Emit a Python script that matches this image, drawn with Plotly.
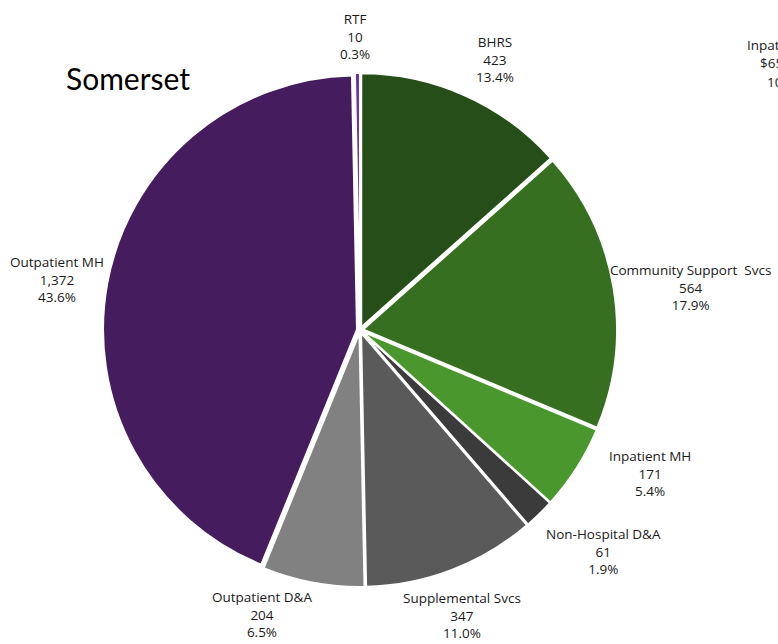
import plotly.graph_objects as go

# Somerset service categories, clockwise from 12 o'clock
categories = ["BHRS", "Community Support  Svcs", "Inpatient MH", "Non-Hospital D&A",
              "Supplemental Svcs", "Outpatient D&A", "Outpatient MH", "RTF"]
values = [423, 564, 171, 61, 347, 204, 1372, 10]
percent_labels = ["13.4%", "17.9%", "5.4%", "1.9%", "11.0%", "6.5%", "43.6%", "0.3%"]
colors = ["#264e18", "#366f20", "#4a982d", "#3b3b3b", "#5a5a5a", "#818181", "#451c5d", "#7030a0"]

# label anchor points (pixels from top-left) for each category's text block
label_xy = [(495, 60), (690, 287), (650, 473), (603, 551), (462, 615), (262, 614), (57, 280), (355, 36)]

W, H = 778, 644
cx, cy, r = 360, 330, 257

fig = go.Figure(go.Pie(
    labels=categories,
    values=values,
    sort=False,
    direction="clockwise",
    rotation=0,
    marker=dict(colors=colors, line=dict(color="white", width=2)),
    pull=[0.012] * len(values),
    textinfo="none",
    hoverinfo="label+value+percent",
    showlegend=False,
    domain=dict(x=[(cx - r) / W, (cx + r) / W],
                y=[(H - cy - r) / H, (H - cy + r) / H]),
))

label_font = dict(family="'Open Sans', Lato, sans-serif", size=13.5, color="#1a1a1a")
for name, val, pct, (lx, ly) in zip(categories, values, percent_labels, label_xy):
    fig.add_annotation(
        x=lx / W, y=1 - ly / H, xref="paper", yref="paper",
        text=f"{name}<br>{val:,}<br>{pct}",
        showarrow=False, align="center", xanchor="center", yanchor="middle",
        font=label_font,
    )

# neighbouring chart's label running off the right edge
for txt, lx, ly in [("Inpatient MH", 745, 45), ("$65", 758, 63), ("10", 765, 82)]:
    fig.add_annotation(
        x=lx / W, y=1 - ly / H, xref="paper", yref="paper", text=txt,
        showarrow=False, xanchor="left", yanchor="middle", font=label_font,
    )

fig.add_annotation(
    x=64 / W, y=1 - 78 / H, xref="paper", yref="paper", text="Somerset",
    showarrow=False, xanchor="left", yanchor="middle",
    font=dict(family="Lato, 'Open Sans', sans-serif", size=30, color="#000000"),
)

fig.update_layout(
    width=W, height=H,
    margin=dict(l=0, r=0, t=0, b=0),
    paper_bgcolor="white", plot_bgcolor="white",
)

fig.write_html("out.html")
